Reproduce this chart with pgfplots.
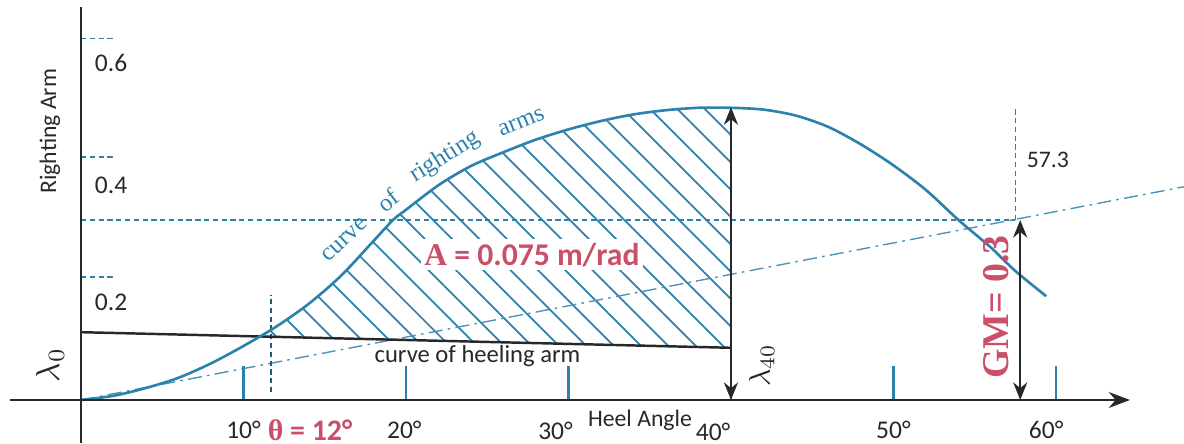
\documentclass[border=0pt]{standalone}
\usepackage{pgfplots}
\pgfplotsset{compat=1.18}
\usepgfplotslibrary{fillbetween}
\usetikzlibrary{patterns.meta,arrows.meta}
\usepackage{fontspec}
\setmainfont{Carlito}
\newfontfamily\serifb{Liberation Serif}
\definecolor{cblue}{RGB}{45,130,172}
\definecolor{cred}{RGB}{201,80,104}
\definecolor{cdark}{RGB}{40,40,40}
\pgfplotstableread{
x y
0 0
2 0.007
4 0.020
6 0.037
8 0.061
10 0.090
12 0.122
14 0.160
16 0.207
18 0.265
19.2 0.300
20 0.317
22 0.358
24 0.390
26 0.413
28 0.434
30 0.451
32 0.465
34 0.476
36 0.483
38 0.487
40 0.487
42 0.484
44 0.474
46 0.455
48 0.426
50 0.391
52 0.350
54 0.300
56 0.254
57.5 0.215
59.4 0.173
}\righting
\pgfplotstableread{
x y
0 0.113
40 0.087
}\heeling
\begin{document}
\begin{tikzpicture}
\begin{axis}[name=ax, scale only axis, width=23.68cm, height=8.86cm,
  xmin=-4.985, xmax=67.88, ymin=-0.0717, ymax=0.6667,
  axis lines=none, clip=false]
% invisible named paths
\addplot[name path=R, draw=none, smooth] table {\righting};
\addplot[name path=H, draw=none] table {\heeling};
% hatched area
\addplot[draw=none, pattern={Lines[angle=-45, distance=11pt, line width=1pt]}, pattern color=cblue]
  fill between[of=R and H, soft clip={domain=11.6:40}];
% tangent at origin
\addplot[cblue!85, line width=0.8pt, dash pattern=on 8pt off 3pt on 1.5pt off 3pt] coordinates {(0,0) (67.88,0.3554)};
% GM level line
\addplot[cblue, line width=0.8pt, densely dashed] coordinates {(0,0.3) (57.5,0.3)};
\addplot[cblue, line width=0.8pt, densely dashed] coordinates {(57.5,0.3) (57.5,0.487)};
% theta = 12 line
\addplot[cblue!70!black, line width=1.1pt, densely dashed] coordinates {(11.7,0.013) (11.7,0.175)};
% label under heeling line
\node[fill=white, inner sep=0.5pt, font=\fontsize{14}{16}\selectfont, text=cdark] at (axis cs:24.4,0.073) {curve of heeling arm};
% visible curves
\addplot[cdark, line width=1.4pt] table {\heeling};
\addplot[cblue, line width=1.5pt, smooth] table {\righting};
% axis ticks
\foreach \t in {10,20,30,40,50,60}{
  \edef\tmp{\noexpand\draw[cblue, line width=1.2pt] (axis cs:\t,0) -- (axis cs:\t,0.056);}\tmp
}
\foreach \v in {0.205,0.405,0.603}{
  \edef\tmp{\noexpand\draw[cblue, line width=0.8pt, densely dashed] (axis cs:0,\v) -- (axis cs:2.1,\v);}\tmp
}
% axes
\draw[cdark, line width=1.5pt, -{Stealth[length=12pt,width=9pt]}] (axis cs:-4.37,0) -- (axis cs:64.55,0);
\draw[cdark, line width=1.3pt] (axis cs:0,-0.0717) -- (axis cs:0,0.655);
% arrows
\draw[cdark, line width=1.3pt, {Stealth[length=10pt,width=8pt]}-{Stealth[length=10pt,width=8pt]}] (axis cs:40,0) -- (axis cs:40,0.488);
\draw[cdark, line width=1.3pt, {Stealth[length=10pt,width=8pt]}-{Stealth[length=10pt,width=8pt]}] (axis cs:57.8,0) -- (axis cs:57.8,0.3);
% y tick labels
\node[font=\fontsize{14.5}{16}\selectfont, text=cdark] at (axis cs:1.85,0.562) {0.6};
\node[font=\fontsize{14.5}{16}\selectfont, text=cdark] at (axis cs:1.85,0.358) {0.4};
\node[font=\fontsize{14.5}{16}\selectfont, text=cdark] at (axis cs:1.85,0.162) {0.2};
% x tick labels
\node[inner sep=1pt, font=\fontsize{14.5}{16}\selectfont, text=cdark] at (axis cs:10,-0.050) {10°};
\node[inner sep=1pt, font=\fontsize{14.5}{16}\selectfont, text=cdark] at (axis cs:19.9,-0.050) {20°};
\node[inner sep=1pt, font=\fontsize{14.5}{16}\selectfont, text=cdark] at (axis cs:29.2,-0.051) {30°};
\node[inner sep=1pt, font=\fontsize{14.5}{16}\selectfont, text=cdark] at (axis cs:38.9,-0.053) {40°};
\node[inner sep=1pt, font=\fontsize{14.5}{16}\selectfont, text=cdark] at (axis cs:50,-0.050) {50°};
\node[inner sep=1pt, font=\fontsize{14.5}{16}\selectfont, text=cdark] at (axis cs:59.4,-0.050) {60°};
\node[inner sep=1pt, font=\fontsize{13.5}{15}\selectfont, text=cdark] at (axis cs:34.4,-0.034) {Heel Angle};
\node[inner sep=1pt, font=\fontsize{17}{19}\selectfont\bfseries, text=cred] at (axis cs:14.1,-0.050) {{\serifb θ} = 12°};
% other labels
\node[rotate=90, font=\fontsize{13.5}{15}\selectfont, text=cdark] at (axis cs:-1.91,0.448) {Righting Arm};
\node[rotate=90, text=cdark, scale=1.9] at (axis cs:-1.91,0.058) {$\lambda_0$};
\node[rotate=90, text=cdark, scale=1.7] at (axis cs:41.9,0.058) {$\lambda_{40}$};
\node[font=\fontsize{13.5}{15}\selectfont, text=cdark] at (axis cs:59.5,0.40) {57.3};
\node[rotate=90, font=\fontsize{21.5}{23}\selectfont\serifb\bfseries, text=cred] at (axis cs:56.3,0.155) {GM= 0.3};
\node[fill=white, inner sep=2pt, font=\fontsize{18}{20}\selectfont\bfseries, text=cred] at (axis cs:27.75,0.242) {{\serifb A} = 0.075 m/rad};
% text along the righting curve
\node[rotate=43, font=\fontsize{14}{16}\selectfont\serifb, text=cblue] at (axis cs:16.25,0.267) {curve};
\node[rotate=38, font=\fontsize{14}{16}\selectfont\serifb, text=cblue] at (axis cs:18.9,0.333) {of};
\node[rotate=32, font=\fontsize{14}{16}\selectfont\serifb, text=cblue] at (axis cs:22.4,0.405) {righting};
\node[rotate=22, font=\fontsize{14}{16}\selectfont\serifb, text=cblue] at (axis cs:27.1,0.463) {arms};
\end{axis}
\pgfresetboundingbox
\useasboundingbox (ax.south west) rectangle (ax.north east);
\end{tikzpicture}
\end{document}
